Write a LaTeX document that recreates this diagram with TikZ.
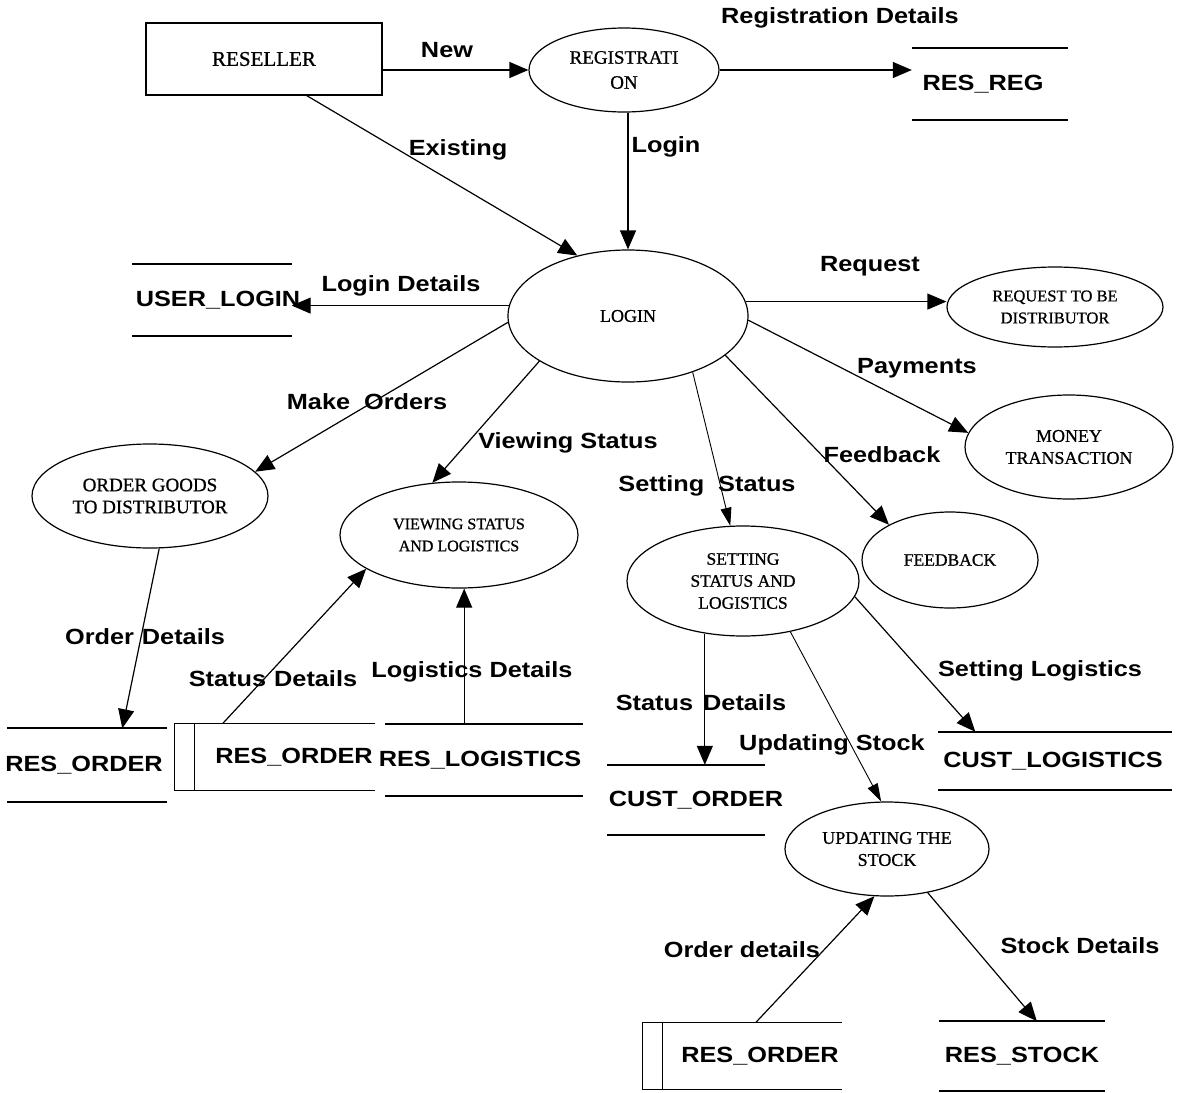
\documentclass[tikz,border=0pt]{standalone}
\usepackage{fontspec}
\setmainfont{Liberation Serif}
\newfontfamily\flowfont[FakeStretch=1.15]{Liberation Sans}
\newfontfamily\procserif[FakeBold=0.8]{Liberation Serif}
\usepackage{tikz}
\usetikzlibrary{calc}
\usetikzlibrary{arrows.meta}
\usetikzlibrary{shapes.geometric}
\newcommand\lblfont{\flowfont\bfseries\fontsize{22}{26}\selectfont}
\newcommand\procfont[1]{\procserif\fontsize{#1}{22}\selectfont}
\newcommand\storelabel[2]{\makebox[0pt]{\hspace*{#1}#2}}

\begin{document}
\begin{tikzpicture}[x=1pt, y=-1pt,
        proc/.style={draw, ellipse, line width=1.2pt, inner sep=0pt, align=center, font=\procfont{18}},
        rule/.style={line width=1.8pt},
        boxrule/.style={line width=1.3pt},
        store/.style={inner sep=0pt, font=\lblfont,
            append after command={(\tikzlastnode.north west) edge[rule] (\tikzlastnode.north east)
                                  (\tikzlastnode.south west) edge[rule] (\tikzlastnode.south east)}},
        boxstore/.style={inner sep=0pt, font=\lblfont,
            append after command={(\tikzlastnode.north west) edge[boxrule] (\tikzlastnode.north east)
                                  (\tikzlastnode.south west) edge[boxrule] (\tikzlastnode.south east)
                                  (\tikzlastnode.north west) edge[boxrule] (\tikzlastnode.south west)
                                  ([xshift=20pt]\tikzlastnode.north west) edge[boxrule] ([xshift=20pt]\tikzlastnode.south west)}},
        flow/.style={line width=1.2pt, -{Triangle[length=19pt,width=16pt]}},
        thinflow/.style={line width=0.9pt, -{Triangle[length=18pt,width=11pt]}},
        lbl/.style={font=\lblfont, inner sep=0pt}]
            \useasboundingbox (0,0) rectangle (1183,1092);

            \node[draw, line width=1.2pt, minimum width=236pt, minimum height=72pt, font=\procfont{21}] (reseller) at ( 264,  59) {RESELLER};

            \node[proc, minimum width=190pt, minimum height=84pt,  font=\procserif\fontsize{19}{25}\selectfont] (reg) at ( 624,  70) {REGISTRATI\\ON};
            \node[proc, minimum width=240pt, minimum height=132pt]                                   (login)      at ( 628, 316) {LOGIN};
            \node[proc, minimum width=216pt, minimum height=80pt,  font=\procfont{16.5}]             (reqdist)    at (1055, 307) {REQUEST TO BE\\DISTRIBUTOR};
            \node[proc, minimum width=208pt, minimum height=104pt]                                   (money)      at (1069, 447) {MONEY\\TRANSACTION};
            \node[proc, minimum width=176pt, minimum height=96pt,  font=\procfont{17.5}]             (feedback)   at ( 950, 560) {FEEDBACK};
            \node[proc, minimum width=236pt, minimum height=104pt, font=\procfont{19}]               (ordergoods) at ( 150, 496) {ORDER GOODS\\TO DISTRIBUTOR};
            \node[proc, minimum width=238pt, minimum height=106pt, font=\procfont{16}]               (viewing)    at ( 459, 535) {VIEWING STATUS\\AND LOGISTICS};
            \node[proc, minimum width=232pt, minimum height=110pt, font=\procfont{17.5}]             (setting)    at ( 743, 581) {SETTING\\STATUS AND\\LOGISTICS};
            \node[proc, minimum width=204pt, minimum height=94pt]                                    (updating)   at ( 887, 849) {UPDATING THE\\STOCK};

            \node[store,    minimum width=156pt, minimum height=72pt] (resreg)        at ( 990,   84) {\storelabel{-14pt}{RES\_REG}};
            \node[store,    minimum width=159pt, minimum height=71pt] (userlogin)     at ( 212,  300) {\storelabel{12pt}{USER\_LOGIN}};
            \node[store,    minimum width=160pt, minimum height=73pt] (resorder)      at (  87,  765) {\storelabel{-6pt}{RES\_ORDER}};
            \node[boxstore, minimum width=200pt, minimum height=67pt] (resorderbox)   at ( 275,  757) {\storelabel{38pt}{RES\_ORDER}};
            \node[store,    minimum width=198pt, minimum height=71pt] (reslogistics)  at ( 484,  760) {\storelabel{-8pt}{RES\_LOGISTICS}};
            \node[store,    minimum width=157pt, minimum height=70pt] (custorder)     at ( 686,  800) {\storelabel{20pt}{CUST\_ORDER}};
            \node[store,    minimum width=234pt, minimum height=58pt] (custlogistics) at (1055,  761) {\storelabel{-4pt}{CUST\_LOGISTICS}};
            \node[boxstore, minimum width=199pt, minimum height=67pt] (resorderstk)   at ( 742, 1056) {\storelabel{36pt}{RES\_ORDER}};
            \node[store,    minimum width=165pt, minimum height=69pt] (resstock)      at (1022, 1056) {\storelabel{0pt}{RES\_STOCK}};

            \draw[flow]     (reseller.east |- reg.west) -- (reg.west);
            \draw[flow]     (reg.east) -- (reg.east -| resreg.west);
            \draw[flow]     (reg.south -| login.north) -- (login.north);
            \draw[flow]     ($(reseller.south west)!0.68!(reseller.south east)$) -- (login.130);
            \draw[flow]     (login.175) -- (login.175 -| userlogin.east);
            \draw[flow]     (login.7) -- (login.7 -| reqdist.west);
            \draw[flow]     (login.-2) -- (money.172);
            \draw[flow]     (login.-22) -- (feedback.150);
            \draw[thinflow] (login.-41) -- (setting.103);
            \draw[flow]     (login.183) -- (ordergoods.13);
            \draw[flow]     (login.207) -- (viewing.117);
            \draw[flow]     (ordergoods.-80) -- ($(resorder.north west)!0.72!(resorder.north east)$);
            \draw[flow]     ($(resorderbox.north west)!0.24!(resorderbox.north east)$) -- (viewing.200);
            \coordinate (logisup) at ($(reslogistics.north west)!0.4!(reslogistics.north east)$);
            \draw[flow]     (logisup) -- (logisup |- viewing.south);
            \draw[flow]     (setting.234) -- (setting.234 |- custorder.north);
            \draw[flow]     (setting.-8) -- ($(custlogistics.north west)!0.16!(custlogistics.north east)$);
            \draw[thinflow] (setting.-47) -- (updating.97);
            \draw[flow]     ($(resorderstk.north west)!0.57!(resorderstk.north east)$) -- (updating.-105);
            \draw[flow]     (updating.-47) -- ($(resstock.north west)!0.59!(resstock.north east)$);

            \node[lbl] (lnew)      at ( 447,  50) {New};
            \node[lbl] (lregdet)   at ( 840,  18) {Registration Details};
            \node[lbl] (lexist)    at ( 458, 150) {Existing};
            \node[lbl] (llogin)    at ( 666, 147) {Login};
            \node[lbl] (llogdet)   at ( 401, 286) {Login Details};
            \node[lbl] (lreq)      at ( 870, 266) {Request};
            \node[lbl] (lpay)      at ( 917, 368) {Payments};
            \node[lbl] (lmake)     at ( 367, 402) {Make\hspace{14pt}Orders};
            \node[lbl] (lview)     at ( 568, 443) {Viewing Status};
            \node[lbl] (lfeed)     at ( 882, 455) {Feedback};
            \node[lbl] (lsetstat)  at ( 707, 486) {Setting\hspace{14pt}Status};
            \node[lbl] (lorddet)   at ( 145, 637) {Order\hspace{8pt}Details};
            \node[lbl] (lstatdet)  at ( 273, 679) {Status\hspace{8pt}Details};
            \node[lbl] (llogisdet) at ( 472, 672) {Logistics Details};
            \node[lbl] (lsetlog)   at (1040, 671) {Setting Logistics};
            \node[lbl] (lstatdetb) at ( 701, 703) {Status\hspace{10pt}Details};
            \node[lbl] (lupd)      at ( 832, 745) {Updating Stock};
            \node[lbl] (lorddetb)  at ( 742, 950) {Order details};
            \node[lbl] (lstockdet) at (1080, 946) {Stock Details};
\end{tikzpicture}
\end{document}
